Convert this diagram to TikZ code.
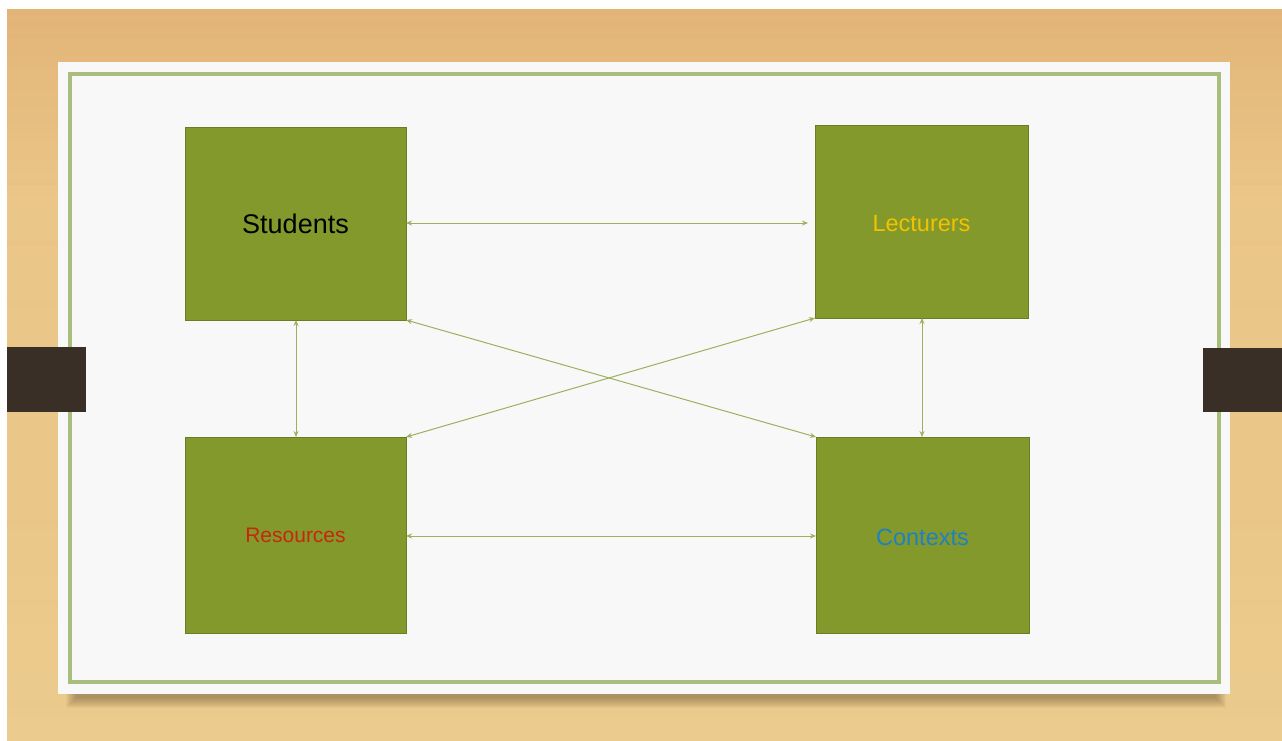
\documentclass[tikz,border=0pt]{standalone}
\usepackage{fontspec}
\setmainfont{Liberation Sans}
\usetikzlibrary{arrows.meta}
\definecolor{woodtop}{HTML}{E3B478}
\definecolor{woodmid}{HTML}{EAC688}
\definecolor{woodlow}{HTML}{EBCC8E}
\definecolor{paper}{HTML}{F8F8F8}
\definecolor{frameline}{HTML}{A9BE7C}
\definecolor{boxfill}{HTML}{83992B}
\definecolor{boxedge}{HTML}{6A7D22}
\definecolor{linkcol}{HTML}{9CB05E}
\definecolor{tabcol}{HTML}{3A2F27}
\definecolor{lectcol}{HTML}{F2C200}
\definecolor{rescol}{HTML}{C4280E}
\definecolor{ctxcol}{HTML}{1F80C2}
\tikzset{
  topic/.style={draw=boxedge, line width=1pt, fill=boxfill, anchor=north west,
    inner sep=0pt, outer sep=0pt},
  link/.style={draw=linkcol, line width=1pt,
    {Stealth[length=6pt,width=5pt]}-{Stealth[length=6pt,width=5pt]}}
}
\begin{document}
\begin{tikzpicture}[x=1pt,y=-1pt]
\useasboundingbox (0,0) rectangle (1282,741);
\fill[white] (0,0) rectangle (1282,741);
% wooden table
\shade[top color=woodtop, bottom color=woodmid] (7,10) rectangle (1282,200);
\fill[woodmid] (7,199) rectangle (1282,460);
\shade[top color=woodmid, bottom color=woodlow] (7,459) rectangle (1282,741);
\foreach \yy/\op in {22/0.08, 34/0.06, 50/0.05, 120/0.04, 180/0.04, 240/0.05, 300/0.03, 520/0.04, 600/0.03, 700/0.04}
  \fill[woodtop!80!brown, opacity=\op] (7,\yy) rectangle (1282,\yy+6);
% soft paper shadow
\foreach \k in {0,1,...,10}
  \fill[black!70!brown, opacity=0.035] (66+\k,694) rectangle (1226-\k,708-\k);
% paper sheet and inner frame
\fill[paper] (58,62) rectangle (1230,694);
\draw[frameline, line width=3.2pt] (70,74) rectangle (1219,682);
% side tabs
\fill[tabcol] (7,347) rectangle (86,412);
\fill[tabcol] (1203,348) rectangle (1282,412);
% topic boxes
\node[topic, minimum width=221pt, minimum height=192pt] (stu) at (185,128) {};
\node[topic, minimum width=213pt, minimum height=192pt] (lec) at (815,126) {};
\node[topic, minimum width=221pt, minimum height=196pt] (res) at (185,437) {};
\node[topic, minimum width=213pt, minimum height=196pt] (ctx) at (816,437) {};
\node[font=\fontsize{27}{30}\selectfont, text=black] at (stu.center) {Students};
\node[font=\fontsize{23.5}{26}\selectfont, text=lectcol] at ([yshift=-2pt]lec.center) {Lecturers};
\node[font=\fontsize{21}{24}\selectfont, text=rescol] at (res.center) {Resources};
\node[font=\fontsize{23.5}{26}\selectfont, text=ctxcol] at ([yshift=-2pt]ctx.center) {Contexts};
% relations
\draw[link] (stu.east |- 0,223) -- ([xshift=-7pt]lec.west |- 0,223);
\draw[link] (res.east |- 0,536) -- (ctx.west |- 0,536);
\draw[link] (stu.south -| 296,0) -- (res.north -| 296,0);
\draw[link] (lec.south -| 922,0) -- (ctx.north -| 922,0);
\draw[link] (stu.south east) -- (ctx.north west);
\draw[link] (lec.south west) -- (res.north east);
\end{tikzpicture}
\end{document}
